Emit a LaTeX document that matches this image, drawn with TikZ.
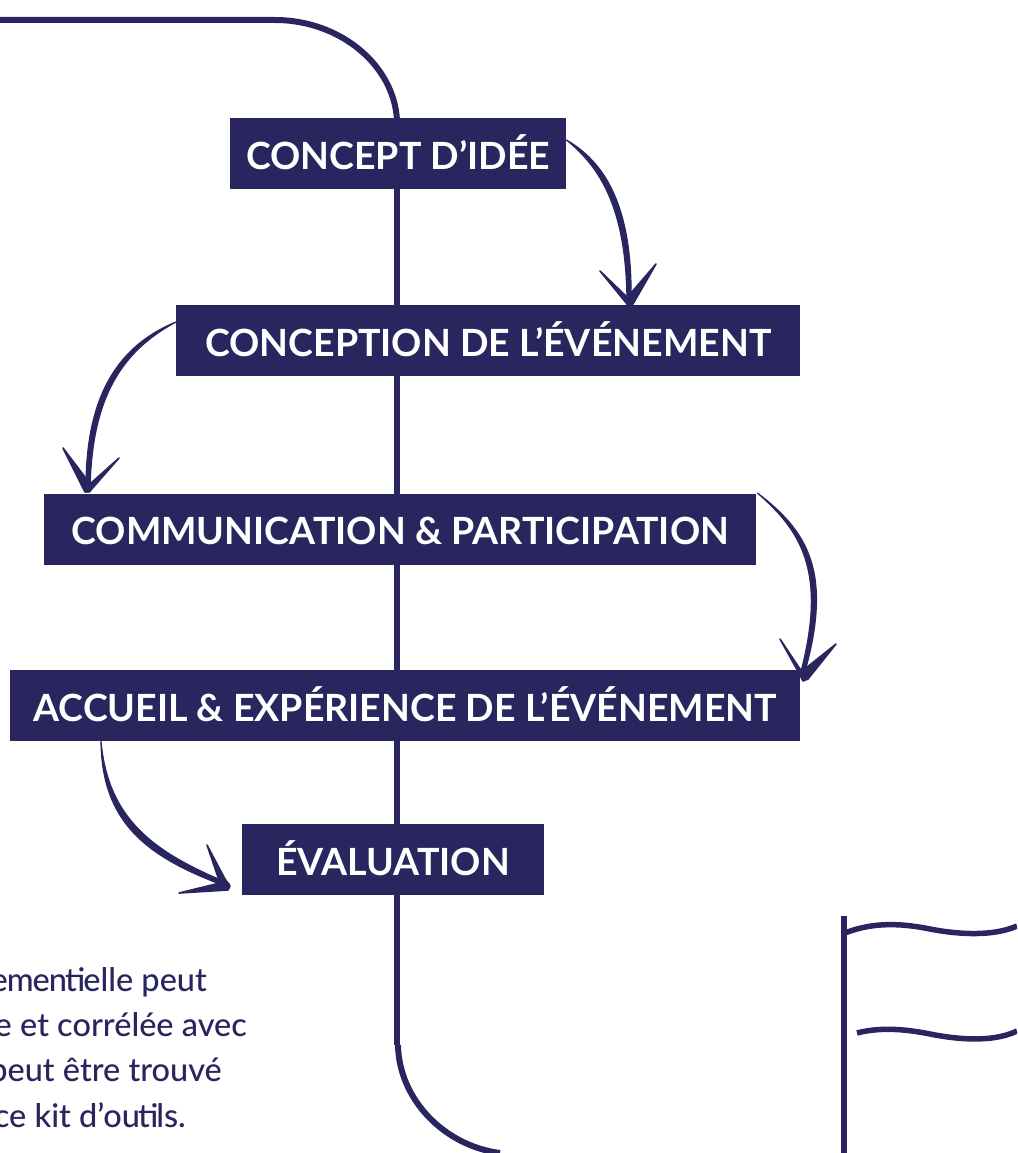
\documentclass[tikz,border=0pt]{standalone}
\usepackage{fontspec}
\setmainfont{Lato}
\newfontfamily\bodyfont{Lato Medium}
\usetikzlibrary{calc}
\definecolor{navy}{HTML}{29265F}
\tikzset{
  stepbox/.style={fill=navy,text=white,font=\bfseries\fontsize{37.5}{37.5}\selectfont,inner sep=0pt,minimum height=71pt,text height=32pt,text depth=0pt,anchor=north west},
  spine/.style={draw=navy,line width=6pt},
  conn/.style={draw=navy,line width=1.2pt,fill=navy,line join=round},
  barb/.style={fill=navy,draw=navy,line width=1.6pt,line join=round},
  body/.style={text=navy,font=\bodyfont\fontsize{32.5}{32.5}\selectfont,inner sep=0pt,anchor=base east},
}
\begin{document}
\begin{tikzpicture}[x=1pt,y=-1pt]
\useasboundingbox (0,0) rectangle (1017,1153);
\clip (0,0) rectangle (1017,1153);
\coordinate (topfree) at (0,20);
\coordinate (botfree) at (500,1153);
\coordinate (splice) at (397,1045);
\draw[spine] (topfree) -- (275,20) .. controls (340,20) and (394,65) .. (397,120);
\draw[spine] (397,120) -- (splice);
\draw[spine] (398,1045) .. controls (399,1100) and (445,1146) .. (botfree);
\node[stepbox,minimum width=336pt] (n1) at (230,118) {CONCEPT D’IDÉE};
\node[stepbox,minimum width=624pt] (n2) at (176,305) {CONCEPTION DE L’ÉVÉNEMENT};
\node[stepbox,minimum width=712pt,text height=30pt] (n3) at (44,494) {COMMUNICATION \& PARTICIPATION};
\node[stepbox,minimum width=790pt] (n4) at (10,670) {ACCUEIL \& EXPÉRIENCE DE L’ÉVÉNEMENT};
\node[stepbox,minimum width=302pt] (n5) at (242,824) {ÉVALUATION};
% arrow 1
\path[conn] ($(n1.north east)+(0,22)$) .. controls (610,165) and (633,215) .. ($(n2.north west)+(455,0)$)
  -- ($(n2.north west)+(451,0)$) .. controls (627,215) and (604,170) .. cycle;
\path[barb] (600,271) -- (627,304) -- (633,304) -- (656,264) -- (631,293) -- (628,298) -- cycle;
% arrow 2
\path[conn] ($(n2.north west)+(0,17)$) .. controls (115,347) and (85,400) .. ($(n3.north west)+(42,-2)$)
  -- ($(n3.north west)+(46,-2)$) .. controls (91,400) and (120,352) .. cycle;
\path[barb] (63,448) -- (85,492) -- (90,491) -- (119,458) -- (90,484) -- (88,481) -- cycle;
% arrow 3
\path[conn] ($(n3.north east)+(1,-1)$) .. controls (806,530) and (833,570) .. ($(n4.north east)+(5,0)$)
  -- ($(n4.north east)+(1,0)$) .. controls (827,570) and (800,530) .. cycle;
\path[barb] (780,639) -- (800,675) -- (803,681) -- (808,679) -- (836,644) -- (806,668) -- (802,672) -- cycle;
% arrow 4
\path[conn] ($(n4.south west)+(91,0)$) .. controls (108,818) and (152,852) .. ($(n5.south west)+(-13,-12)$)
  -- ($(n5.south west)+(-13,-8)$) .. controls (148,858) and (102,824) .. cycle;
\path[barb] (207,845) -- (225,879) -- (230,886) -- (228,890) -- (179,893) -- (220,883) -- cycle;
% text
\node[body] (t1) at (207,991) {e\kern-1pt m\kern-1pt e\kern-1pt n\kern-2pt ti\kern-2pt elle peut};
\node[body] (t2) at (247,1036) {e et corrélée avec};
\node[body] (t3) at (222,1081) {peut être trouvé};
\node[body] (t4) at (186,1127) {ce kit d’ou\kern-2pt ti\kern-2pt ls.};
% flag
\draw[navy,line width=6.8pt] (844,916) -- (844,1153);
\draw[navy,line width=5.5pt] (845,933) .. controls (875,921) and (905,924) .. (930,929) .. controls (950,933) and (990,938) .. (1017,926);
\draw[navy,line width=5.5pt] (857,1033) .. controls (880,1027) and (905,1029) .. (930,1034) .. controls (950,1038) and (990,1044) .. (1017,1031);
\end{tikzpicture}
\end{document}
